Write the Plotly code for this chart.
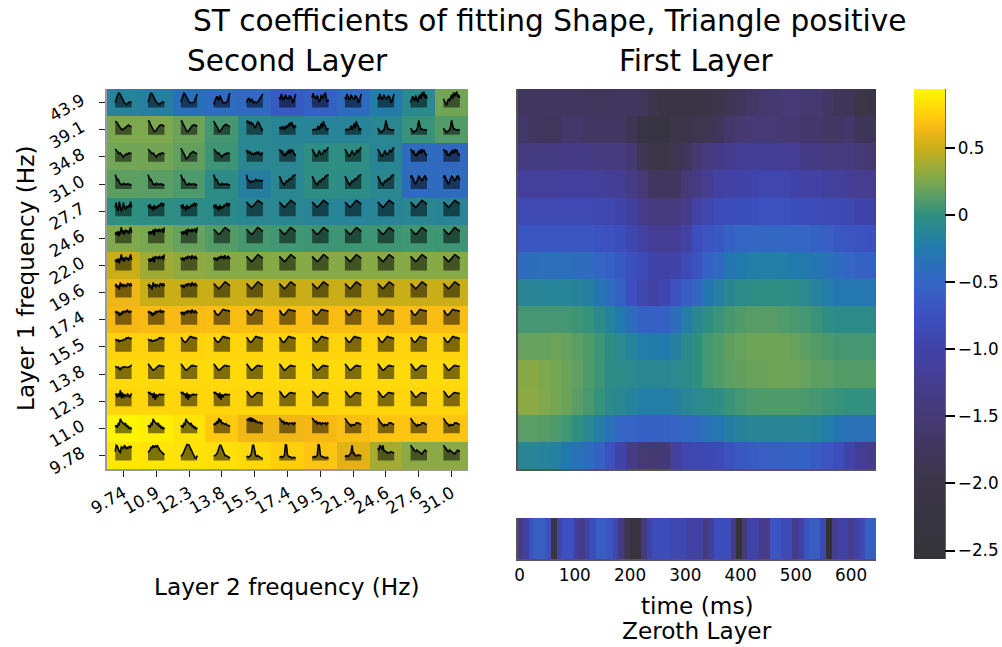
import plotly.graph_objects as go

# ---------- labels ----------
layer1_hz = ["43.9","39.1","34.8","31.0","27.7","24.6","22.0","19.6","17.4","15.5","13.8","12.3","11.0","9.78"]
layer2_hz = ["9.74","10.9","12.3","13.8","15.5","17.4","19.5","21.9","24.6","27.6","31.0"]
time_ticks = [0,100,200,300,400,500,600]
cbar_vals = [0.5,0,-0.5,-1.0,-1.5,-2.0,-2.5]
cbar_text = ["0.5","0","\u22120.5","\u22121.0","\u22121.5","\u22122.0","\u22122.5"]

# ---------- second layer (rows top to bottom) ----------
second_layer = [
 [-.15,-.18,-.36,-.42,-.45,-.62,-.55,-.42,-.22,-.08,.22],
 [.26,.26,.2,.07,-.1,-.12,-.13,-.13,-.1,.03,.12],
 [.22,.22,.17,.05,-.1,-.1,-.02,-.02,-.12,-.42,-.45],
 [.15,.14,.1,-.03,-.18,-.1,-.02,-.03,-.1,-.42,-.42],
 [0,-.02,-.04,-.05,-.1,-.1,-.12,-.13,-.12,-.1,-.12],
 [.27,.24,.18,.12,.08,.06,.05,.05,.05,.06,.05],
 [.5,.37,.32,.29,.29,.29,.29,.29,.29,.29,.29],
 [.62,.5,.5,.5,.5,.5,.5,.5,.5,.5,.5],
 [.65,.66,.66,.67,.67,.67,.67,.67,.67,.67,.67],
 [.77,.77,.77,.78,.78,.78,.77,.77,.77,.77,.77],
 [.8,.8,.8,.8,.8,.8,.8,.8,.8,.8,.8],
 [.78,.78,.78,.78,.78,.78,.78,.78,.78,.78,.78],
 [.92,.9,.85,.72,.63,.63,.65,.68,.7,.7,.7],
 [.87,.85,.84,.82,.8,.75,.7,.58,.38,.3,.3],
]

# ---------- first layer ----------
first_layer = [
 [-1.72,-1.72,-1.72,-1.72,-1.72,-1.72,-1.75,-1.75,-1.75,-1.72,-1.72,-1.75,-1.95,-2.1,-2.15,-2.15,-2.1,-2.05,-1.95,-1.85,-1.75,-1.65,-1.58,-1.55,-1.5,-1.5,-1.55,-1.55,-1.65,-1.75,-1.8,-2.0,-2.05],
 [-1.6,-1.7,-1.75,-1.75,-1.62,-1.62,-1.68,-1.68,-1.68,-1.68,-1.85,-2.1,-2.2,-2.2,-2.0,-1.95,-1.9,-1.9,-1.75,-1.6,-1.55,-1.5,-1.5,-1.5,-1.55,-1.55,-1.6,-1.6,-1.65,-1.65,-1.6,-1.8,-1.8],
 [-1.38,-1.4,-1.4,-1.4,-1.36,-1.33,-1.38,-1.42,-1.42,-1.42,-1.55,-1.85,-2.0,-2.0,-1.9,-1.75,-1.55,-1.42,-1.32,-1.26,-1.2,-1.18,-1.18,-1.18,-1.2,-1.22,-1.32,-1.38,-1.42,-1.42,-1.42,-1.5,-1.55],
 [-1.15,-1.15,-1.15,-1.15,-1.13,-1.1,-1.12,-1.15,-1.18,-1.22,-1.35,-1.5,-1.7,-1.75,-1.72,-1.5,-1.38,-1.25,-1.08,-1.02,-1.0,-1.0,-.95,-.95,-.95,-1.0,-1.05,-1.05,-1.1,-1.15,-1.2,-1.25,-1.25],
 [-.88,-.88,-.88,-.88,-.88,-.88,-.88,-.92,-.95,-1.0,-1.1,-1.3,-1.42,-1.45,-1.42,-1.3,-1.05,-.95,-.85,-.8,-.78,-.78,-.75,-.75,-.75,-.78,-.78,-.82,-.85,-.85,-.92,-.98,-1.0],
 [-.68,-.68,-.68,-.68,-.68,-.68,-.68,-.72,-.75,-.8,-.95,-1.05,-1.2,-1.22,-1.2,-1.05,-.8,-.7,-.65,-.55,-.5,-.48,-.48,-.47,-.47,-.5,-.5,-.55,-.6,-.65,-.7,-.72,-.75],
 [-.42,-.4,-.38,-.38,-.38,-.4,-.42,-.5,-.55,-.62,-.75,-.85,-1.0,-1.02,-1.0,-.85,-.7,-.55,-.45,-.3,-.25,-.22,-.2,-.2,-.22,-.25,-.25,-.3,-.35,-.42,-.5,-.55,-.55],
 [-.12,-.12,-.13,-.13,-.13,-.15,-.18,-.3,-.42,-.55,-.75,-.95,-1.02,-.95,-.75,-.6,-.48,-.3,-.18,-.1,-.05,-.03,-.02,-.02,-.02,-.03,-.08,-.15,-.22,-.28,-.28,-.28,-.28],
 [.07,.07,.07,.07,.07,.05,.02,-.05,-.15,-.25,-.4,-.55,-.55,-.55,-.4,-.22,-.1,-.02,.03,.08,.11,.13,.13,.13,.11,.09,.07,.03,-.02,-.05,-.05,-.05,-.05],
 [.18,.18,.18,.2,.18,.14,.11,.05,-.02,-.08,-.15,-.22,-.23,-.25,-.18,-.08,0,.07,.11,.16,.18,.2,.21,.21,.2,.18,.15,.12,.09,.07,.07,.07,.07],
 [.29,.29,.26,.23,.2,.16,.11,.05,-.03,-.05,-.08,-.1,-.1,-.1,-.08,-.05,0,.07,.11,.15,.17,.19,.19,.21,.2,.2,.18,.15,.14,.12,.12,.12,.12],
 [.3,.3,.27,.23,.2,.14,.09,.02,-.05,-.1,-.15,-.2,-.2,-.2,-.18,-.12,-.08,-.05,-.02,.03,.07,.1,.11,.11,.11,.11,.09,.07,.05,.03,.01,.01,.01],
 [.14,.14,.13,.1,.06,0,-.1,-.2,-.35,-.48,-.52,-.55,-.55,-.55,-.52,-.48,-.42,-.35,-.28,-.2,-.15,-.12,-.12,-.12,-.12,-.12,-.13,-.15,-.22,-.3,-.35,-.35,-.35],
 [-.12,-.12,-.15,-.17,-.25,-.35,-.42,-.55,-.75,-1.0,-1.35,-1.5,-1.55,-1.5,-1.15,-.95,-.9,-.9,-.85,-.75,-.65,-.62,-.6,-.58,-.55,-.55,-.55,-.62,-.7,-.8,-1.0,-1.2,-1.3],
]

# ---------- zeroth layer ----------
zeroth_layer = [-1.35,-1.1,-.72,-.58,-.58,-.75,-2.1,-.95,-.75,-.75,-1.15,-1.35,-1.0,-.78,-.6,-.6,-.7,-.92,-1.4,-1.85,-2.3,-2.3,-1.45,-1.0,
 -.8,-.8,-.8,-.92,-.92,-.92,-1.05,-1.05,-1.05,-1.45,-1.1,-.78,-.78,-.78,-1.35,-2.56,-1.45,-1.0,-1.0,-1.3,-1.3,-.7,-.7,-.85,-.85,
 -1.3,-1.05,-.72,-.6,-.6,-.92,-2.5,-1.3,-1.02,-1.02,-1.25,-1.05,-.85,-.58,-.58]

# ---------- inset curves ----------
hump_a = [.3,.45,.7,.88,.9,.8,.65,.5,.35,.3,.25,.2,.23,.3,.35,.33,.35]
hump_b = [.35,.5,.8,.9,.85,.7,.55,.4,.35,.3,.22,.2,.25,.3,.35,.32,.35]
hump_c = [.35,.5,.75,.9,.85,.7,.6,.45,.35,.3,.3,.3,.32,.35,.55,.75,.85]
spike_rise = [.2,.35,.55,.7,.6,.45,.75,.6,.35,.3,.3,.28,.3,.35,.5,.8,.9]
hump_rise = [.3,.45,.6,.5,.35,.55,.4,.3,.35,.33,.3,.35,.45,.55,.6,.75,.85]
noisy_w = [.65,.5,.85,.6,.5,.55,.8,.65,.55,.5,.75,.7,.6,.3,.4,.65,.85]
noisy_w2 = [.6,.9,.7,.6,.55,.75,.5,.35,.5,.8,.6,.65,.85,.9,.5,.35,.5]
noisy_top = [.3,.5,.7,.55,.4,.75,.5,.35,.65,.8,.55,.95,.7,1,.6,.8,.55]
noisy_dip = [.55,.4,.2,.15,.35,.55,.4,.6,.8,.55,.95,.7,.85,1,.7,.75,.6]
v_soft = [.85,.8,.75,.62,.5,.45,.35,.3,.35,.4,.5,.55,.6,.6,.55,.5,.5]
v_deep = [.9,.85,.7,.55,.45,.3,.2,.2,.3,.4,.5,.55,.6,.62,.6,.55,.55]
noisy_m = [.75,.85,.8,.7,.8,.65,.7,.6,.45,.5,.7,.8,.75,.55,.4,.3,.35]
noisy_low = [.4,.45,.35,.5,.45,.3,.55,.4,.6,.5,.75,.55,.8,.55,.4,.6,.45]
spike_mid = [.3,.3,.35,.3,.3,.4,.55,.3,.5,.7,.4,.85,.6,.55,.3,.35,.4]
spike_sharp = [.4,.3,.2,.15,.2,.25,.3,.5,.9,.6,.35,.35,.3,.3,.3,.3,.3]
v_jag = [.8,.7,.65,.6,.5,.55,.45,.35,.3,.4,.45,.5,.45,.55,.55,.5,.5]
v_jag2 = [.85,.75,.6,.55,.4,.2,.2,.3,.35,.5,.55,.6,.65,.6,.55,.55,.5]
w_jag = [.75,.6,.65,.55,.6,.45,.55,.4,.55,.5,.6,.5,.6,.45,.4,.55,.5]
w_jag2 = [.8,.65,.6,.7,.4,.5,.35,.6,.55,.75,.5,.8,.6,.75,.55,.4,.5]
w_rise = [.8,.7,.55,.45,.35,.4,.55,.7,.55,.45,.5,.6,.75,.6,.75,.85,.9]
decay = [.9,.75,.55,.6,.4,.3,.3,.25,.35,.3,.28,.3,.32,.28,.3,.25,.25]
decay_flat = [.9,.6,.55,.45,.4,.5,.45,.45,.5,.6,.55,.5,.55,.55,.5,.5,.55]
v_rise = [.8,.7,.55,.4,.3,.25,.4,.5,.45,.55,.65,.6,.65,.8,.85,.85,.9]
m_shape = [.7,.85,.7,.55,.35,.3,.45,.6,.8,.75,.6,.5,.6,.75,.85,.7,.55]
spiky_a = [.55,.85,.4,.35,.9,.55,.3,.5,.85,.55,.4,.6,.55,.65,.55,.9,.55]
spiky_b = [.7,.5,.75,.45,.6,.35,.7,.45,.6,.5,.7,.6,.75,.8,.6,.8,.7]
smooth_m = [.88,.8,.72,.65,.58,.55,.6,.68,.78,.88,.95,.98,.95,.9,.85,.8,.75]
smooth_hump = [.9,.85,.72,.65,.6,.62,.7,.8,.88,.95,.95,.9,.88,.9,.85,.85,.82]
smooth_v = [.95,.9,.8,.7,.62,.55,.58,.65,.72,.78,.82,.85,.85,.82,.8,.8,.8]
noisy_g = [.55,.7,.5,.75,.45,.65,1,.6,.8,.55,.85,.7,.8,.6,.75,1,.65]
noisy_h = [.65,.7,.55,.75,.6,.85,.5,.9,.75,.85,.7,.9,.75,.8,.9,.65,1]
noisy_i = [.8,.65,.8,.6,.75,.85,.7,.9,.8,.85,.7,.95,.8,.75,.9,.8,.7]
noisy_j = [.7,.85,.6,.75,.5,.95,.7,.85,.65,.8,.75,.7,.9,.85,.75,.9,.7]
noisy_k = [.75,.85,.7,.8,.55,.75,.6,.85,.75,.85,.8,.85,.9,.75,.85,.8,.85]
flat_a = [.8,.75,.7,.75,.65,.7,.72,.7,.78,.75,.8,.88,.85,.9,.85,.82,.88]
flat_b = [.8,.75,.7,.75,.65,.55,.72,.7,.75,.78,.75,.72,.72,.75,.78,.8,.9]
jag_low = [.7,.75,.55,.8,.6,1,.5,.85,.5,.75,.65,.6,.75,.7,.55,.7,.8]
jag_drop = [.9,.8,.85,.7,.8,.5,.85,.4,.75,.55,.7,.75,.7,.75,.7,.75,.75]
hump_noisy = [.4,.5,.35,.6,.55,.9,.75,.7,.6,.55,.65,.4,.5,.3,.4,.25,.35]
hump_noisy2 = [.5,.6,.55,.75,.6,.95,.7,.85,.6,.65,.6,.55,.6,.5,.5,.45,.5]
fall_noisy = [.8,.85,.9,.75,1,.7,.95,.75,.85,.7,.75,.65,.7,.7,.6,.65,.6]
fall_jag = [.95,.85,.8,.7,.75,.55,.7,.6,.65,.55,.65,.6,.6,.65,.55,.65,.6]
fall_v = [.95,.85,.7,.65,.6,.5,.45,.55,.5,.5,.55,.65,.65,.65,.6,.55,.55]
plateau = [.55,.95,.9,.7,.55,.5,.85,.8,.75,.95,.8,.7,.85,.75,.9,.8,.9]
dome_a = [.5,.6,.65,.85,.75,.95,.8,.9,.85,.95,.75,.7,.6,.55,.5,.45,.35]
dome_b = [.25,.3,.4,.55,.7,.85,1,1,.95,.8,.7,.55,.4,.25,.15,.15,.3]
peak_a = [.25,.3,.3,.4,.55,.7,.95,.95,.75,.55,.4,.3,.3,.25,.25,.15,.15]
peak_b = [.2,.25,.2,.25,.3,.5,.95,.95,.55,.3,.25,.3,.25,.2,.2,.1,.1]
peak_c = [.2,.2,.25,.2,.25,.3,1,.95,.35,.25,.25,.2,.2,.15,.2,.15,.15]
peak_d = [.3,.25,.3,.25,.3,.4,.5,.95,.4,.45,.3,.3,.3,.35,.3,.3,.3]
peak_e = [.75,.65,.95,.75,.7,.95,.6,.6,.55,.5,.45,.5,.5,.55,.5,.5,.45]
slope = [.95,.85,.8,.7,.6,.55,.65,.6,.55,.45,.4,.4,.5,.6,.65,.6,.55]

curve_grid = [
 [hump_a,hump_b,hump_c,spike_rise,hump_rise,noisy_w,noisy_w2,noisy_w,noisy_w,noisy_top,noisy_dip],
 [v_soft,v_deep,v_deep,v_jag2,noisy_m,noisy_low,spike_mid,spike_mid,spike_sharp,spike_sharp,spike_sharp],
 [v_jag,v_jag,v_jag2,v_jag,w_jag,w_jag2,w_rise,w_rise,w_rise,w_jag2,w_jag2],
 [decay,decay,decay,decay,decay_flat,v_rise,v_rise,v_rise,v_rise,m_shape,m_shape],
 [spiky_a,spiky_b,spiky_b,spiky_b,smooth_m,smooth_m,smooth_m,smooth_m,smooth_m,smooth_m,smooth_m],
 [noisy_g,noisy_h,noisy_h,smooth_m,smooth_m,smooth_m,smooth_m,smooth_m,smooth_m,smooth_m,smooth_m],
 [noisy_g,noisy_h,noisy_i,noisy_i,smooth_m,smooth_m,smooth_m,smooth_m,smooth_m,smooth_m,smooth_m],
 [noisy_j,noisy_j,noisy_i,smooth_m,smooth_m,smooth_m,smooth_m,smooth_m,smooth_m,smooth_m,smooth_m],
 [noisy_k,noisy_k,noisy_i,smooth_hump,smooth_hump,smooth_hump,smooth_hump,smooth_hump,smooth_hump,smooth_hump,smooth_hump],
 [flat_a,flat_a,smooth_hump,smooth_hump,smooth_hump,smooth_hump,smooth_hump,smooth_hump,smooth_hump,smooth_hump,smooth_hump],
 [flat_b,smooth_v,smooth_v,smooth_v,smooth_v,smooth_v,smooth_v,smooth_v,smooth_v,smooth_v,smooth_v],
 [jag_low,jag_drop,jag_drop,jag_drop,smooth_v,smooth_v,smooth_v,smooth_v,smooth_v,smooth_v,smooth_v],
 [hump_noisy,hump_noisy,hump_noisy,hump_noisy2,fall_noisy,fall_jag,fall_jag,fall_v,fall_v,fall_v,fall_v],
 [plateau,dome_a,dome_b,peak_a,peak_b,peak_c,peak_c,peak_d,peak_e,slope,slope],
]

colors = [
 (-2.563,"#333338"),(-2.0,"#3b3648"),(-1.75,"#3f365c"),(-1.5,"#453a75"),(-1.25,"#463c90"),(-1.0,"#4043a8"),
 (-.75,"#3c50c0"),(-.5,"#3565c5"),(-.25,"#2279ae"),(0,"#2f9080"),(.25,"#7ba84f"),(.5,"#c9ae18"),
 (.65,"#f7b816"),(.72,"#ffc90f"),(.85,"#ffe408"),(.939,"#fff800"),
]
vmin, vmax = -2.563, .939
colorscale = [[(v-vmin)/(vmax-vmin),c] for v,c in colors]

W, H = 1002, 647
ML, MB = 40, 40   # reserved margins, so nothing is pushed by the labels
def px(a): return (a-ML)/(W-ML)
def py(b): return (H-MB-b)/(H-MB)
def dx(a,b): return [px(a),px(b)]
def dy(top,bottom): return [py(bottom),py(top)]
FONT = "DejaVu Sans"
TICK = 16.8

fig = go.Figure()
n_r, n_c = len(layer1_hz), len(layer2_hz)
fig.add_trace(go.Heatmap(z=second_layer[::-1], x=[c+.5 for c in range(n_c)], y=[r+.5 for r in range(n_r)],
                         coloraxis="coloraxis", xaxis="x", yaxis="y"))
t0, t1 = -3.6, 645.0
dt1 = (t1-t0)/len(first_layer[0])
dt0 = (t1-t0)/len(zeroth_layer)
fig.add_trace(go.Heatmap(z=first_layer[::-1], x=[t0+dt1*(i+.5) for i in range(len(first_layer[0]))],
                         y=[r+.5 for r in range(n_r)], coloraxis="coloraxis", xaxis="x2", yaxis="y2"))
fig.add_trace(go.Heatmap(z=[zeroth_layer], x=[t0+dt0*(i+.5) for i in range(len(zeroth_layer))], y=[0],
                         coloraxis="coloraxis", xaxis="x3", yaxis="y3"))

# inset curves, placed in cell units of the second-layer axes
row_px = (469-89)/n_r
half_w = .25
base_off = 5/row_px
amp = 16/row_px
lx, ly, fx, fy = [], [], [], []
for r, row in enumerate(curve_grid):
    yc = n_r-1-r+.5
    for c, curve in enumerate(row):
        xs = [c+.5-half_w+2*half_w*i/(len(curve)-1) for i in range(len(curve))]
        ys = [yc-base_off+v*amp for v in curve]
        lx += xs+[None]; ly += ys+[None]
        fx += [xs[0]]+xs+[xs[-1],xs[0],None]
        fy += [yc-base_off]+ys+[yc-base_off,yc-base_off,None]
fig.add_trace(go.Scatter(x=fx,y=fy,mode="lines",fill="toself",fillcolor="rgba(0,0,0,0.5)",
                         line=dict(width=0,color="rgba(0,0,0,0)"),xaxis="x",yaxis="y",hoverinfo="skip"))
fig.add_trace(go.Scatter(x=lx,y=ly,mode="lines",line=dict(width=1.6,color="black"),xaxis="x",yaxis="y",hoverinfo="skip"))

axis_common = dict(showgrid=False,zeroline=False,ticks="outside",ticklen=6,tickcolor="#222",tickwidth=1,automargin=False,
                   showline=True,linewidth=1.5,tickfont=dict(family=FONT,size=TICK,color="black"))
fig.update_layout(
    width=W,height=H,margin=dict(l=ML,r=0,t=0,b=MB,autoexpand=False),paper_bgcolor="white",plot_bgcolor="white",showlegend=False,
    font=dict(family=FONT,color="black"),
    xaxis=dict(domain=dx(107,468),range=[0,n_c],tickvals=[c+.5 for c in range(n_c)],ticktext=layer2_hz,tickangle=-30,
               linecolor="#999",**axis_common),
    yaxis=dict(domain=dy(89,469),range=[0,n_r],tickvals=[r+.5 for r in range(n_r)],ticktext=layer1_hz[::-1],tickangle=-30,
               ticklabelstandoff=14,ticklabelshift=-4,linecolor="#999",**axis_common),
    xaxis2=dict(domain=dx(517.5,876),range=[t0,t1],showticklabels=False,showgrid=False,zeroline=False,ticks="",
                showline=True,linecolor="#555",linewidth=1.5,anchor="y2"),
    yaxis2=dict(domain=dy(89,469),range=[0,n_r],showticklabels=False,showgrid=False,zeroline=False,ticks="",
                showline=True,linecolor="#555",linewidth=1.5,anchor="x2"),
    xaxis3=dict(domain=dx(517.5,876),range=[t0,t1],tickvals=time_ticks,ticktext=[str(t) for t in time_ticks],anchor="y3",
                showgrid=False,zeroline=False,ticks="",showline=True,linecolor="#555",linewidth=1.5,
                tickfont=dict(family=FONT,size=TICK,color="black")),
    yaxis3=dict(domain=dy(518,559),range=[-.5,.5],showticklabels=False,showgrid=False,zeroline=False,ticks="",
                showline=True,linecolor="#555",linewidth=1.5,anchor="x3"),
    coloraxis=dict(colorscale=colorscale,cmin=vmin,cmax=vmax,
        colorbar=dict(x=px(914),xanchor="left",y=py(89),yanchor="top",len=470,lenmode="pixels",
                      thickness=31,thicknessmode="pixels",outlinewidth=0,ticks="outside",ticklen=10,tickcolor="black",
                      tickwidth=1.5,tickvals=cbar_vals,ticktext=cbar_text,tickfont=dict(family=FONT,size=TICK,color="black"),
                      xpad=0,ypad=0)),
    shapes=[dict(type="line",xref="paper",yref="paper",x0=px(945),x1=px(945),y0=py(89),y1=py(559),line=dict(color="black",width=1.2))],
)
def note(text,x,y,size,angle=0):
    fig.add_annotation(text=text,x=px(x),y=py(y),xref="paper",yref="paper",showarrow=False,xanchor="center",yanchor="middle",
                       textangle=angle,font=dict(family=FONT,size=size,color="black"))
note("ST coefficients of fitting Shape, Triangle positive",550,21,29.6)
note("Second Layer",287,61,29.5)
note("First Layer",696,61,29.5)
note("Layer 1 frequency (Hz)",25,278,23.2,-90)
note("Layer 2 frequency (Hz)",287,586,23.2)
note("time (ms)",697,605,23.2)
note("Zeroth Layer",697,630,23.2)

fig.write_html("out.html",config=dict(displayModeBar=False),post_script="document.body.style.margin='0';")
